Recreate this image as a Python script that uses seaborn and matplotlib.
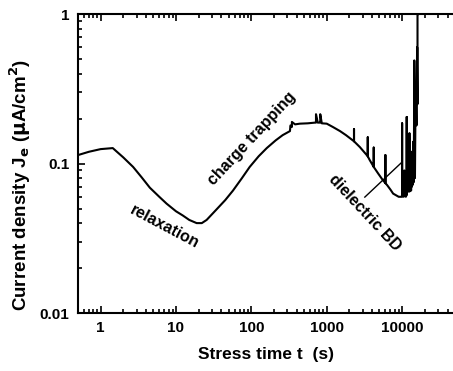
import numpy as np
import pandas as pd
import matplotlib
matplotlib.use("Agg")
import matplotlib.pyplot as plt
import seaborn as sns
from matplotlib.ticker import LogLocator, FixedLocator, FixedFormatter, NullFormatter

# --- data (stress time in s, current density in uA/cm^2) ---
time_s = [0.5, 0.7, 1.0, 1.45, 2.0, 2.7, 3.5, 4.5, 6.0, 7.5, 10, 12.3, 15, 18.8, 22,
          25.5, 34, 45, 57, 75, 95, 125, 160, 210, 260, 325, 330, 345, 345, 380,
          440, 560, 700, 720, 720, 760, 800, 820, 820, 860, 1000, 1200, 1500,
          1800, 2300, 2300, 2300, 2750, 3500, 3500, 3500, 3700, 4200, 4200, 4200,
          4800, 5500, 6000, 6000, 6000, 6300, 7000, 7600, 8500, 9000, 9500, 10000,
          10000, 10000, 10300, 10500, 10700, 10800, 11000, 11200, 11500, 11500,
          11500, 11800, 12000, 12200, 12500, 12500, 12700, 13000, 13150, 13300,
          13450, 13600, 13800, 14000, 14200, 14500, 14500, 14800, 15000, 15200,
          15500, 15800, 16000, 16000, 16200]
current = [0.114, 0.120, 0.125, 0.127, 0.110, 0.095, 0.081, 0.069, 0.060, 0.054,
           0.048, 0.045, 0.042, 0.040, 0.040, 0.042, 0.049, 0.057, 0.066, 0.080,
           0.095, 0.112, 0.127, 0.143, 0.155, 0.165, 0.180, 0.176, 0.190, 0.183,
           0.185, 0.186, 0.188, 0.188, 0.214, 0.188, 0.188, 0.188, 0.214, 0.186,
           0.185, 0.176, 0.165, 0.155, 0.141, 0.170, 0.141, 0.129, 0.112, 0.150,
           0.112, 0.106, 0.095, 0.128, 0.095, 0.086, 0.078, 0.074, 0.114, 0.074,
           0.072, 0.067, 0.063, 0.061, 0.060, 0.060, 0.060, 0.186, 0.062, 0.080,
           0.060, 0.090, 0.062, 0.075, 0.060, 0.062, 0.205, 0.062, 0.085, 0.065,
           0.110, 0.065, 0.160, 0.068, 0.090, 0.066, 0.120, 0.070, 0.095, 0.072,
           0.140, 0.075, 0.300, 0.490, 0.080, 0.200, 0.350, 0.180, 0.600, 0.250,
           1.0, 1.0]

df = pd.DataFrame({"t": time_s, "J": current})

plt.rcParams["font.family"] = ["Liberation Sans", "DejaVu Sans"]
plt.rcParams["font.weight"] = "bold"
plt.rcParams["mathtext.default"] = "bf"

fig = plt.figure(figsize=(4.53, 3.71), dpi=100)
ax = fig.add_axes([0.172, 0.156, 0.832, 0.806])

sns.lineplot(data=df, x="t", y="J", sort=False, estimator=None,
             color="black", linewidth=1.5, ax=ax)

ax.set_xscale("log")
ax.set_yscale("log")
ax.set_xlim(0.5, 50000)
ax.set_ylim(0.01, 1)

ax.xaxis.set_major_locator(FixedLocator([1, 10, 100, 1000, 10000]))
ax.xaxis.set_major_formatter(FixedFormatter(["1", "10", "100", "1000", "10000"]))
ax.xaxis.set_minor_locator(LogLocator(base=10, subs=np.arange(2, 10), numticks=20))
ax.xaxis.set_minor_formatter(NullFormatter())
ax.yaxis.set_major_locator(FixedLocator([0.01, 0.1, 1]))
ax.yaxis.set_major_formatter(FixedFormatter(["0.01", "0.1", "1"]))
ax.yaxis.set_minor_locator(LogLocator(base=10, subs=np.arange(2, 10), numticks=20))
ax.yaxis.set_minor_formatter(NullFormatter())

ax.tick_params(which="both", direction="in", top=True, right=False,
               labelsize=11, width=1.2)
ax.tick_params(which="major", length=5, pad=6)
ax.tick_params(which="minor", length=3)
for side in ["left", "bottom", "top"]:
    ax.spines[side].set_linewidth(1.5)
ax.spines["right"].set_visible(False)

ax.set_xlabel("Stress time t  (s)", fontsize=12.5, fontweight="bold", labelpad=8)
ax.set_ylabel(r"Current density J$_\mathbf{e}$ ($\mathbf{\mu}$A/cm$^\mathbf{2}$)",
              fontsize=13.5, fontweight="bold")
ax.yaxis.set_label_coords(-0.12, 0.43)

# annotations
ax.text(7.1, 0.0376, "relaxation", rotation=-28, fontsize=11.5, fontweight="bold",
        ha="center", va="center")
ax.text(101, 0.148, "charge trapping", rotation=47, fontsize=11.5, fontweight="bold",
        ha="center", va="center")
ax.text(3200, 0.047, "dielectric BD", rotation=-47, fontsize=11.5, fontweight="bold",
        ha="center", va="center")
ax.plot([3200, 9900], [0.0597, 0.102], color="black", linewidth=1)

fig.savefig("out.png", dpi=100)
